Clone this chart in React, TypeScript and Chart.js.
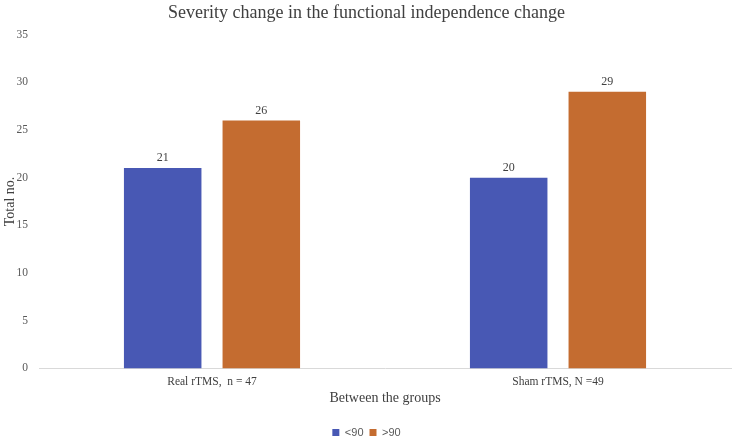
import React, { useEffect, useRef } from "react";
import { Chart, registerables } from "chart.js";

Chart.register(...registerables);

const categories = ["Real rTMS,  n = 47", "Sham rTMS, N =49"];
const seriesNames = ["<90", ">90"];
const lowValues = [21, 20];
const highValues = [26, 29];
const colors = ["#4858B4", "#C46C30"];

const SERIF = "'Liberation Serif', 'DejaVu Serif', serif";

const valueLabels = {
  id: "valueLabels",
  afterDatasetsDraw(chart: any) {
    const ctx = chart.ctx;
    ctx.save();
    ctx.fillStyle = "#404040";
    ctx.font = `12px ${SERIF}`;
    ctx.textAlign = "center";
    ctx.textBaseline = "bottom";
    chart.data.datasets.forEach((ds: any, i: number) => {
      const meta = chart.getDatasetMeta(i);
      meta.data.forEach((bar: any, j: number) => {
        ctx.fillText(String(ds.data[j]), bar.x, bar.y - 4);
      });
    });
    ctx.restore();
  },
};

export default function App() {
  const ref = useRef<HTMLCanvasElement>(null);
  useEffect(() => {
    document.body.style.margin = "0";
    const chart = new Chart(ref.current!, {
      type: "bar",
      data: {
        labels: categories,
        datasets: [
          { label: seriesNames[0], data: lowValues, backgroundColor: colors[0] },
          { label: seriesNames[1], data: highValues, backgroundColor: colors[1] },
        ],
      },
      options: {
        animation: false,
        responsive: false,
        maintainAspectRatio: false,
        layout: { padding: { left: 2, right: 4, top: 0, bottom: -10 } },
        datasets: { bar: { categoryPercentage: 0.57, barPercentage: 0.786 } },
        plugins: {
          title: {
            display: true,
            text: "Severity change in the functional independence change",
            color: "#404040",
            font: { family: SERIF, size: 18, weight: "normal" },
            padding: { top: 2, bottom: 11 },
          },
          legend: {
            position: "bottom",
            labels: {
              boxWidth: 7,
              boxHeight: 7,
              padding: 6,
              color: "#595959",
              font: { family: "'Liberation Sans', Arial, sans-serif", size: 11 },
            },
          },
          tooltip: { enabled: false },
        },
        scales: {
          x: {
            grid: { display: false, drawTicks: false, tickLength: 0 },
            border: { display: true, color: "#D9D9D9", width: 1 },
            ticks: { color: "#404040", font: { family: SERIF, size: 11.5 }, padding: 7 },
            title: {
              display: true,
              text: "Between the groups",
              color: "#404040",
              font: { family: SERIF, size: 14 },
              padding: { top: -6, bottom: 14 },
            },
          },
          y: {
            min: 0,
            max: 35,
            afterFit: (scale: any) => {
              scale.width = 37;
            },
            ticks: { stepSize: 5, color: "#595959", font: { family: SERIF, size: 11.5 }, padding: 11 },
            grid: { display: false, drawTicks: false, tickLength: 0 },
            border: { display: false },
            title: {
              display: true,
              text: "Total no.",
              color: "#404040",
              font: { family: SERIF, size: 14 },
              padding: { top: 0, bottom: 2 },
            },
          },
        },
      },
      plugins: [valueLabels],
    });
    return () => chart.destroy();
  }, []);
  return <canvas ref={ref} width={735} height={438} style={{ display: "block" }} />;
}
